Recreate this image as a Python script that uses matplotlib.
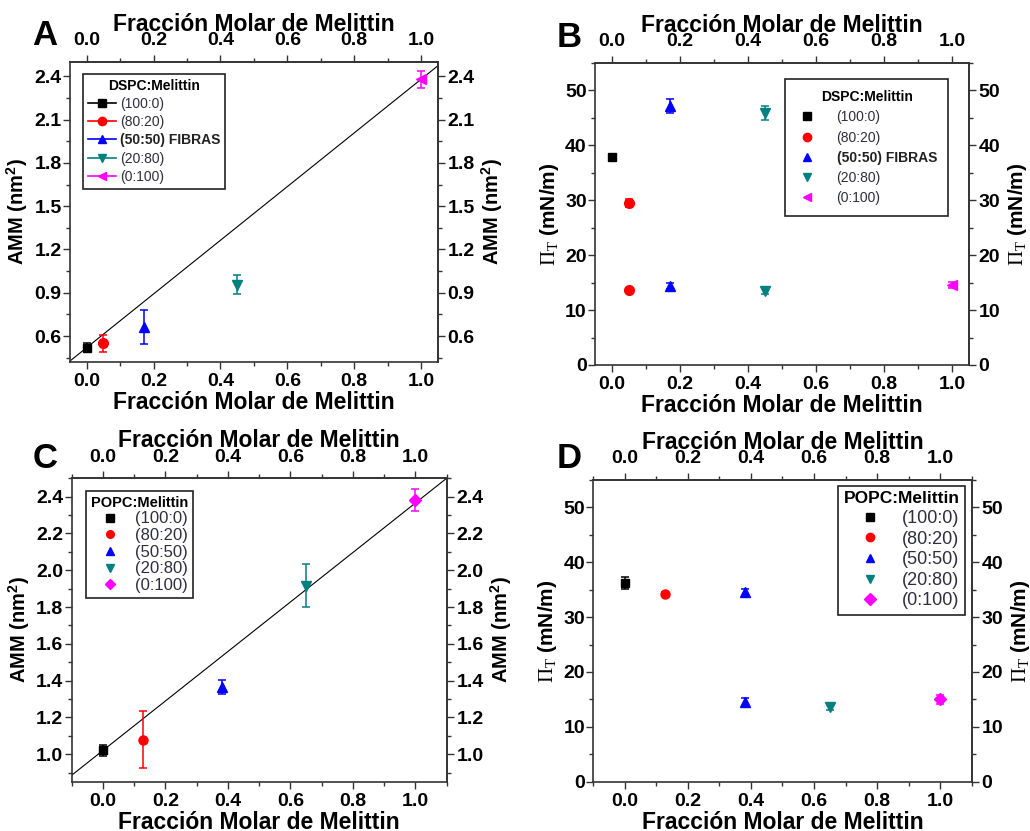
import matplotlib
matplotlib.use("Agg")
import matplotlib.pyplot as plt
from matplotlib.lines import Line2D
from matplotlib.ticker import MultipleLocator
import numpy as np

plt.rcParams['font.family'] = ['Liberation Sans', 'DejaVu Sans']
plt.rcParams['mathtext.fontset'] = 'custom'
plt.rcParams['mathtext.rm'] = 'Liberation Serif'
plt.rcParams['mathtext.it'] = 'Liberation Serif:italic'
plt.rcParams['mathtext.bf'] = 'Liberation Sans:bold'

# ---------------- data ----------------
labels = ['(100:0)', '(80:20)', '(50:50)', '(20:80)', '(0:100)']
colors = ['#000000', '#ff0000', '#0000ff', '#008080', '#ff00ff']

# Panel A: DSPC:Melittin, AMM
a_x = [0.0, 0.05, 0.17, 0.45, 1.0]
a_y = [0.52, 0.55, 0.665, 0.955, 2.38]
a_err = [0.03, 0.06, 0.118, 0.067, 0.06]

# Panel B: DSPC:Melittin, Pi_T (two points for some mixtures)
b_x = [[0.0], [0.05, 0.05], [0.17, 0.17], [0.45, 0.45], [1.0]]
b_y = [[37.8], [29.5, 13.6], [47.2, 14.4], [45.9, 13.5], [14.6]]
b_err = [[0.0], [0.8, 0.4], [1.3, 0.5], [1.3, 0.5], [0.6]]

# Panel C: POPC:Melittin, AMM
c_x = [0.0, 0.127, 0.38, 0.65, 1.0]
c_y = [1.02, 1.078, 1.365, 1.915, 2.38]
c_err = [0.03, 0.155, 0.04, 0.117, 0.06]

# Panel D: POPC:Melittin, Pi_T
d_x = [[0.0], [0.127], [0.38, 0.38], [0.65], [1.0]]
d_y = [[36.2], [34.2], [34.5, 14.5], [13.7], [15.0]]
d_err = [[1.1], [0.3], [0.7, 0.7], [0.6], [0.8]]

xlabel = 'Fracción Molar de Melittin'
spine_c = '#333333'
txt_c = '#2e2e3e'
TICK_FS = 14
XLAB_FS = 16.5

fig = plt.figure(figsize=(10.30, 8.31), dpi=100)


def set_ticks(axis, maj, mnr):
    axis.set_major_locator(MultipleLocator(maj))
    axis.set_minor_locator(MultipleLocator(mnr))


def bold_labels(ax):
    for lab in ax.get_xticklabels() + ax.get_yticklabels():
        lab.set_fontweight('bold')


def style_axes(ax, xlim, ylim, xmaj, xmin, ymaj, ymin, ylabel, ylabelsize):
    ax.set_xlim(*xlim)
    ax.set_ylim(*ylim)
    for s in ax.spines.values():
        s.set_color(spine_c)
        s.set_linewidth(1.2)
    set_ticks(ax.xaxis, xmaj, xmin)
    set_ticks(ax.yaxis, ymaj, ymin)
    ax.tick_params(which='both', direction='out', color=spine_c, width=1.0,
                   labelsize=TICK_FS, top=False, right=False)
    ax.tick_params(which='major', length=5)
    ax.tick_params(which='minor', length=3)
    ax.tick_params(axis='x', which='major', pad=3)
    ax.tick_params(axis='y', which='major', pad=1)
    ax.set_xlabel(xlabel, fontsize=XLAB_FS, fontweight='bold', labelpad=1)
    ax.set_ylabel(ylabel, fontsize=ylabelsize, fontweight='bold', labelpad=3)

    top = ax.secondary_xaxis('top')
    set_ticks(top.xaxis, xmaj, xmin)
    top.tick_params(which='both', direction='out', color=spine_c, width=1.0,
                    labelsize=TICK_FS)
    top.tick_params(which='major', length=5, pad=4)
    top.tick_params(which='minor', length=3)
    top.spines['top'].set_color(spine_c)
    top.spines['top'].set_linewidth(1.2)
    top.set_xlabel(xlabel, fontsize=XLAB_FS, fontweight='bold', labelpad=1)
    bold_labels(top)

    right = ax.secondary_yaxis('right')
    set_ticks(right.yaxis, ymaj, ymin)
    right.tick_params(which='both', direction='out', color=spine_c, width=1.0,
                      labelsize=TICK_FS)
    right.tick_params(which='major', length=5, pad=2)
    right.tick_params(which='minor', length=3)
    right.spines['right'].set_color(spine_c)
    right.spines['right'].set_linewidth(1.2)
    right.set_ylabel(ylabel, fontsize=ylabelsize, fontweight='bold', labelpad=4)
    bold_labels(right)
    bold_labels(ax)


amm_label = r'AMM (nm$^{\mathbf{2}}$)'
pi_label = r'$\Pi_{\mathrm{T}}$ (mN/m)'

markersA = ['s', 'o', '^', 'v', '<']
markersC = ['s', 'o', '^', 'v', 'D']
msz = [6, 7, 7, 7, 7]
msC = [5.5, 6.5, 7, 7, 6]


def leg_style(leg, bold_idx=None):
    leg.get_frame().set_linewidth(1.2)
    for t in leg.get_texts():
        t.set_color(txt_c)
    if bold_idx is not None:
        leg.get_texts()[bold_idx].set_fontweight('bold')
        leg.get_texts()[bold_idx].set_color('#222222')


# ---------- Panel A ----------
axA = fig.add_axes([0.068, 0.5644, 0.357, 0.361])
style_axes(axA, (-0.05, 1.05), (0.42, 2.5), 0.2, 0.1, 0.3, 0.15, amm_label, 14.5)
lx = np.array(axA.get_xlim())
axA.plot(lx, a_y[0] + (a_y[-1] - a_y[0]) * lx, color='black', lw=0.8, zorder=1)
for i in range(5):
    axA.errorbar(a_x[i], a_y[i], yerr=a_err[i], fmt=markersA[i], color=colors[i],
                 ms=msz[i], capsize=3, elinewidth=1.1, capthick=1.1, zorder=3)
hA = [Line2D([], [], color=colors[i], marker=markersA[i], ms=6, lw=1.2) for i in range(5)]
labA = labels.copy()
labA[2] = '(50:50) FIBRAS'
legA = axA.legend(hA, labA, title='DSPC:Melittin', loc='upper left',
                  bbox_to_anchor=(0.035, 0.96), borderaxespad=0, fontsize=10,
                  title_fontproperties={'weight': 'bold', 'size': 10},
                  fancybox=False, edgecolor='#222222', framealpha=1,
                  handlelength=2.0, handletextpad=0.3, labelspacing=0.3,
                  borderpad=0.35)
leg_style(legA, 2)

# ---------- Panel B ----------
axB = fig.add_axes([0.5777, 0.5608, 0.3631, 0.3634])
style_axes(axB, (-0.05, 1.05), (0, 55), 0.2, 0.1, 10, 5, pi_label, 15)
for i in range(5):
    axB.errorbar(b_x[i], b_y[i], yerr=b_err[i], fmt=markersA[i], color=colors[i],
                 ms=msz[i], capsize=3, elinewidth=1.1, capthick=1.1, zorder=3, lw=0)
hB = [Line2D([], [], color=colors[i], marker=markersA[i], ms=6, lw=0) for i in range(5)]
legB = axB.legend(hB, labA, title='DSPC:Melittin', loc='upper right',
                  bbox_to_anchor=(0.944, 0.947), borderaxespad=0, fontsize=10,
                  title_fontproperties={'weight': 'bold', 'size': 10},
                  fancybox=False, edgecolor='#222222', framealpha=1,
                  handlelength=1.5, handletextpad=1.4, labelspacing=0.45,
                  borderpad=0.8)
leg_style(legB, 2)

# ---------- Panel C ----------
axC = fig.add_axes([0.0696, 0.0593, 0.3641, 0.3651])
style_axes(axC, (-0.1, 1.1), (0.85, 2.5), 0.2, 0.1, 0.2, 0.1, amm_label, 14.5)
lx = np.array(axC.get_xlim())
axC.plot(lx, c_y[0] + (c_y[-1] - 0.014 - c_y[0]) * lx, color='black', lw=0.8, zorder=1)
for i in range(5):
    axC.errorbar(c_x[i], c_y[i], yerr=c_err[i], fmt=markersC[i], color=colors[i],
                 ms=msC[i], capsize=3, elinewidth=1.1, capthick=1.1, zorder=3)
hC = [Line2D([], [], color=colors[i], marker=markersC[i], ms=5.5, lw=0) for i in range(5)]
legC = axC.legend(hC, labels, title='POPC:Melittin', loc='upper left',
                  bbox_to_anchor=(0.038, 0.959), borderaxespad=0, fontsize=12,
                  title_fontproperties={'weight': 'bold', 'size': 10.5},
                  fancybox=False, edgecolor='#222222', framealpha=1,
                  handlelength=1.0, handletextpad=1.0, labelspacing=0.1,
                  borderpad=0.3, alignment='right')
leg_style(legC)

# ---------- Panel D ----------
axD = fig.add_axes([0.576, 0.0593, 0.3674, 0.3631])
style_axes(axD, (-0.1, 1.1), (0, 55), 0.2, 0.1, 10, 5, pi_label, 15)
for i in range(5):
    axD.errorbar(d_x[i], d_y[i], yerr=d_err[i], fmt=markersC[i], color=colors[i],
                 ms=msC[i], capsize=3, elinewidth=1.1, capthick=1.1, zorder=3, lw=0)
hD = [Line2D([], [], color=colors[i], marker=markersC[i], ms=6, lw=0) for i in range(5)]
legD = axD.legend(hD, labels, title='POPC:Melittin', loc='upper right',
                  bbox_to_anchor=(0.982, 0.98), borderaxespad=0, fontsize=13,
                  title_fontproperties={'weight': 'bold', 'size': 12.5},
                  fancybox=False, edgecolor='#222222', framealpha=1,
                  handlelength=1.0, handletextpad=1.3, labelspacing=0.2,
                  borderpad=0.3, alignment='right')
leg_style(legD)

# panel letters
for lab, (px, py) in zip('ABCD', [(32, 45), (557, 47), (33, 468), (557, 468)]):
    fig.text(px / 1030, 1 - py / 831, lab, fontsize=25, fontweight='bold',
             ha='left', va='baseline')

fig.savefig('out.png', dpi=100)
